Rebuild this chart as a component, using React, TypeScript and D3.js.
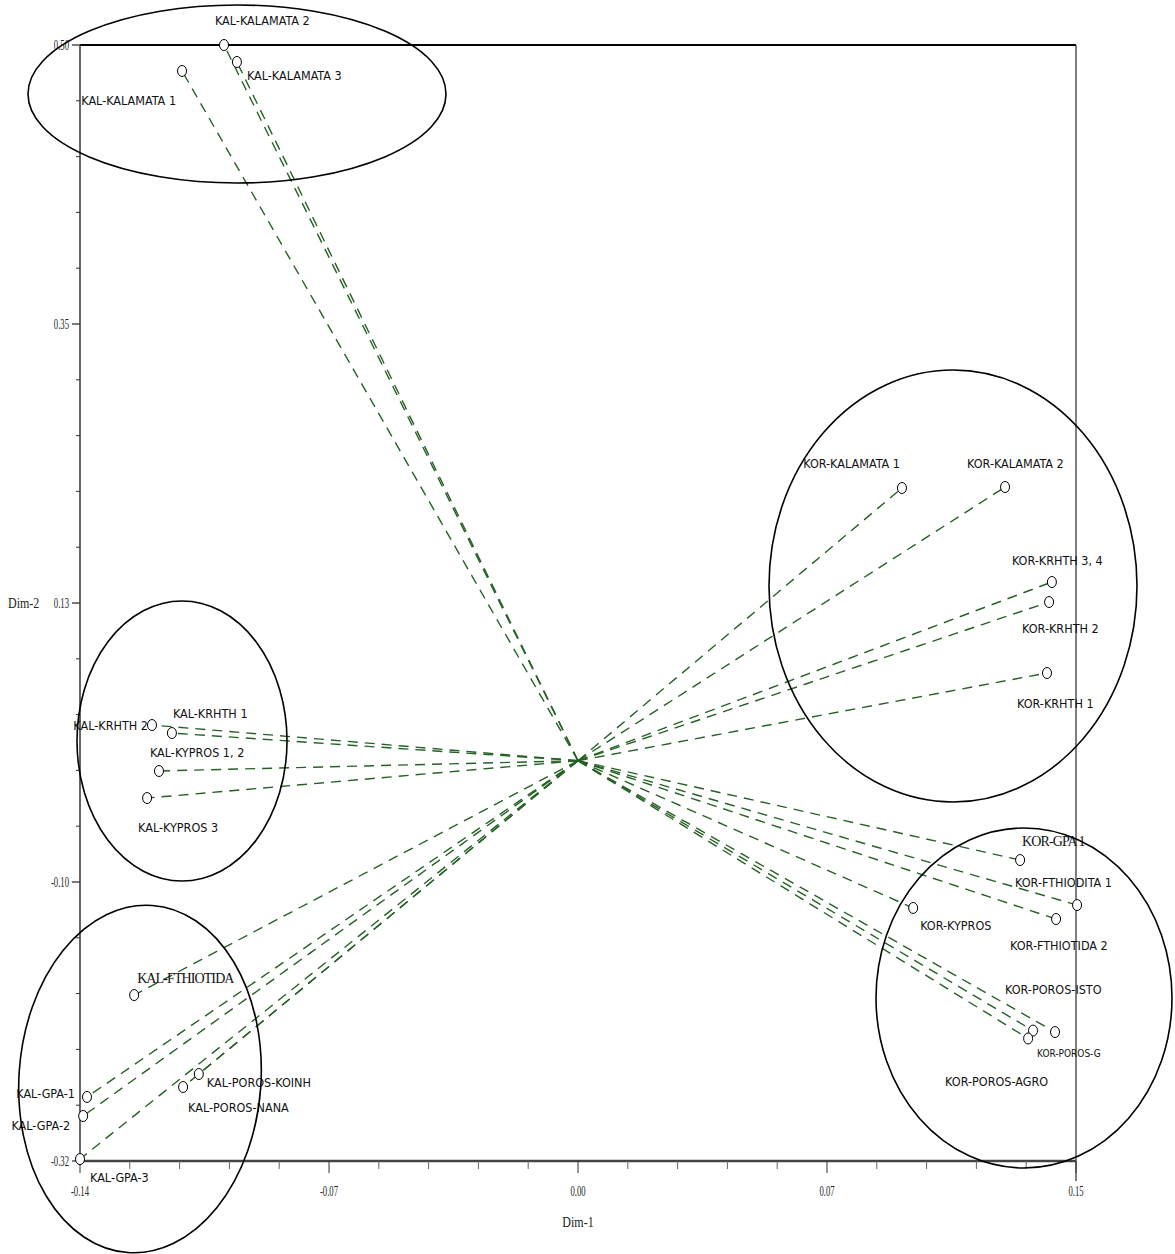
import React from "react";
import * as d3 from "d3";

// ---------- data ----------
const pointNames = [
  "KAL-KALAMATA 2", "KAL-KALAMATA 3", "KAL-KALAMATA 1",
  "KAL-KRHTH 2", "KAL-KRHTH 1", "KAL-KYPROS 1, 2", "KAL-KYPROS 3",
  "KAL-FTHIOTIDA", "KAL-GPA-1", "KAL-GPA-2", "KAL-GPA-3",
  "KAL-POROS-KOINH", "KAL-POROS-NANA",
  "KOR-KALAMATA 1", "KOR-KALAMATA 2", "KOR-KRHTH 3, 4", "KOR-KRHTH 2", "KOR-KRHTH 1",
  "KOR-GPA 1", "KOR-FTHIODITA 1", "KOR-FTHIOTIDA 2", "KOR-KYPROS",
  "KOR-POROS-ISTO", "KOR-POROS-G", "KOR-POROS-AGRO",
];
const dim1 = [
  -0.1013, -0.0976, -0.1133,
  -0.1219, -0.1162, -0.1199, -0.1233,
  -0.1270, -0.1405, -0.1416, -0.1425,
  -0.1085, -0.1130,
  0.0927, 0.1222, 0.1356, 0.1348, 0.1342,
  0.1265, 0.1428, 0.1368, 0.0959,
  0.1302, 0.1365, 0.1288,
];
const dim2 = [
  0.590, 0.576, 0.5686,
  0.0294, 0.0228, -0.0085, -0.0308,
  -0.1932, -0.2772, -0.2929, -0.3284,
  -0.2583, -0.2690,
  0.2248, 0.2256, 0.1473, 0.1308, 0.0723,
  -0.0819, -0.1190, -0.1305, -0.1214,
  -0.2225, -0.2237, -0.2290,
];
const xTickValues = [-0.1425, -0.07125, 0, 0.07125, 0.1425];
const xTickLabels = ["-0.14", "-0.07", "0.00", "0.07", "0.15"];
const yTickValues = [0.59, 0.36, 0.13, -0.10, -0.33];
const yTickLabels = ["0.50", "0.35", "0.13", "-0.10", "-0.32"];
const xDomain = [-0.1425, 0.1425];
const yDomain = [-0.33, 0.59];

// ---------- layout (label placement, annotation ellipses) ----------
// [dx, dy, anchor, fontKind]
const labelLayout: [number, number, string, string][] = [
  [-9, -20, "start", "s"], [10, 18, "start", "s"], [-6, 34, "end", "s"],
  [-4, 5, "end", "s"], [1, -15, "start", "s"], [-9, -14, "start", "s"], [-9, 34, "start", "s"],
  [3, -12, "start", "serif"], [-12, 1, "end", "s"], [-13, 14, "end", "s"], [10, 23, "start", "s"],
  [8, 13, "start", "s"], [5, 25, "start", "s"],
  [-2, -20, "end", "s"], [-38, -19, "start", "s"], [-40, -17, "start", "s"], [-27, 31, "start", "s"], [-30, 35, "start", "s"],
  [2, -14, "start", "serif"], [-62, -18, "start", "s"], [-46, 31, "start", "s"], [7, 22, "start", "s"],
  [-28, -37, "start", "s"], [-18, 25, "start", "small"], [-83, 48, "start", "s"],
];
const ellipses = [
  { cx: 237, cy: 94, rx: 209, ry: 89, rot: 0 },
  { cx: 953, cy: 586, rx: 184, ry: 216, rot: 0 },
  { cx: 182, cy: 741, rx: 105, ry: 140, rot: 0 },
  { cx: 140, cy: 1079, rx: 121, ry: 174, rot: 4 },
  { cx: 1024, cy: 998, rx: 148, ry: 170, rot: 0 },
];

const W = 1175;
const H = 1254;
const left = 80, right = 1076, top = 45, bottom = 1161;

export default function App() {
  const x = d3.scaleLinear().domain(xDomain).range([left, right]);
  const y = d3.scaleLinear().domain(yDomain).range([bottom, top]);
  const x0 = x(0), y0 = y(0);

  const xMinor: number[] = [];
  for (let i = 0; i < xTickValues.length - 1; i++) {
    const a = x(xTickValues[i]), b = x(xTickValues[i + 1]);
    for (let k = 1; k < 5; k++) xMinor.push(a + ((b - a) * k) / 5);
  }
  const yMinor: number[] = [];
  for (let i = 0; i < yTickValues.length - 1; i++) {
    const a = y(yTickValues[i]), b = y(yTickValues[i + 1]);
    for (let k = 1; k < 5; k++) yMinor.push(a + ((b - a) * k) / 5);
  }

  const sansFont = "'Liberation Sans Narrow', 'DejaVu Sans Condensed', 'DejaVu Sans', sans-serif";
  const serifFont = "'Liberation Serif', 'DejaVu Serif', serif";

  return (
    <svg width={W} height={H} style={{ position: "absolute", left: 0, top: 0, background: "#fff" }}>
      {/* frame */}
      <line x1={left} x2={right} y1={top} y2={top} stroke="#000" strokeWidth={2} />
      <line x1={right} x2={right} y1={top} y2={bottom + 20} stroke="#000" strokeWidth={1} />
      <line x1={left} x2={left} y1={top} y2={bottom} stroke="#000" strokeWidth={1.2} />
      <line x1={left} x2={right} y1={bottom} y2={bottom} stroke="#444" strokeWidth={2.5} />

      {/* x ticks */}
      {xTickValues.map((v, i) => (
        <g key={"xt" + i}>
          <line x1={x(v)} x2={x(v)} y1={bottom} y2={bottom + 12} stroke="#333" strokeWidth={1} />
          <g transform={`translate(${x(v)},${bottom + 35}) scale(0.62,1)`}>
            <text x={0} y={0} textAnchor="middle" fontFamily={serifFont} fontSize={14} fill="#222">{xTickLabels[i]}</text>
          </g>
        </g>
      ))}
      {xMinor.map((p, i) => (
        <line key={"xm" + i} x1={p} x2={p} y1={bottom} y2={bottom + 8} stroke="#666" strokeWidth={1} />
      ))}
      <g transform={`translate(${x0},${bottom + 66}) scale(0.8,1)`}>
        <text x={0} y={0} textAnchor="middle" fontFamily={serifFont} fontSize={15} fill="#222">Dim-1</text>
      </g>

      {/* y ticks */}
      {yTickValues.map((v, i) => (
        <g key={"yt" + i}>
          <line x1={left - 8} x2={left} y1={y(v)} y2={y(v)} stroke="#333" strokeWidth={1.3} />
          <g transform={`translate(${left - 11},${y(v) + 5}) scale(0.62,1)`}>
            <text x={0} y={0} textAnchor="end" fontFamily={serifFont} fontSize={14} fill="#222">{yTickLabels[i]}</text>
          </g>
        </g>
      ))}
      {yMinor.map((p, i) => (
        <line key={"ym" + i} x1={left - 4} x2={left} y1={p} y2={p} stroke="#333" strokeWidth={1} />
      ))}
      <g transform={`translate(8,${y(yTickValues[2]) + 5}) scale(0.8,1)`}>
        <text x={0} y={0} fontFamily={serifFont} fontSize={15} fill="#222">Dim-2</text>
      </g>

      {/* rays from origin */}
      {pointNames.map((n, i) => (
        <line key={"ray" + i} x1={x0} y1={y0} x2={x(dim1[i])} y2={y(dim2[i])}
          stroke="#256125" strokeWidth={1.4} strokeDasharray="10 7" />
      ))}

      {/* points */}
      {pointNames.map((n, i) => (
        <ellipse key={"pt" + i} cx={x(dim1[i])} cy={y(dim2[i])} rx={4.5} ry={5.5}
          fill="#fff" stroke="#000" strokeWidth={1} />
      ))}

      {/* labels */}
      {pointNames.map((n, i) => {
        const [dx, dy, anchor, kind] = labelLayout[i];
        const fam = kind === "serif" ? serifFont : sansFont;
        const fs = kind === "serif" ? 14 : kind === "small" ? 10 : 12.5;
        return (
          <text key={"lb" + i} x={x(dim1[i]) + dx} y={y(dim2[i]) + dy} textAnchor={anchor}
            fontFamily={fam} fontSize={fs} fill="#111"
            letterSpacing={kind === "serif" ? -0.9 : 0}>{n}</text>
        );
      })}

      {/* annotation ellipses */}
      {ellipses.map((e, i) => (
        <ellipse key={"el" + i} cx={e.cx} cy={e.cy} rx={e.rx} ry={e.ry}
          transform={`rotate(${e.rot} ${e.cx} ${e.cy})`}
          fill="none" stroke="#000" strokeWidth={1.6} />
      ))}
    </svg>
  );
}
